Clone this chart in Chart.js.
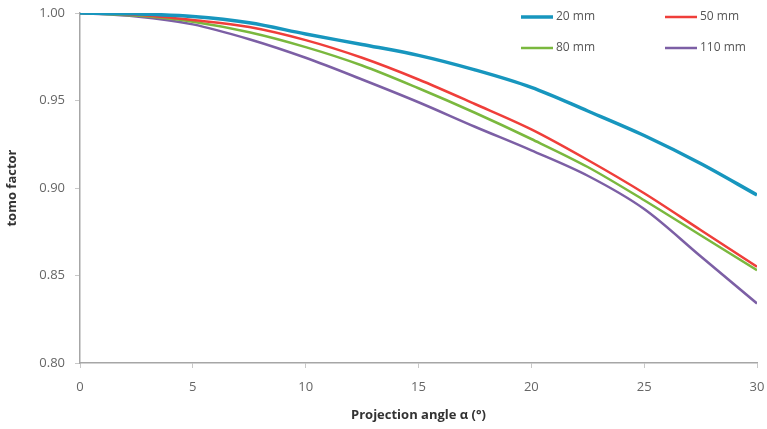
<!DOCTYPE html>
<html>
<head>
<meta charset="utf-8">
<script src="https://cdn.jsdelivr.net/npm/chart.js@4"></script>
<style>
  html, body { margin: 0; padding: 0; background: #fff; }
  #wrap { width: 767px; height: 429px; }
</style>
</head>
<body>
<div id="wrap"><canvas id="tomoChart"></canvas></div>
<script>
const angles = [0, 2.5, 5, 7.5, 10, 12.5, 15, 17.5, 20, 22.5, 25, 27.5, 30];
const labels = ["20 mm", "50 mm", "80 mm", "110 mm"];
const mm20  = [1.000, 0.9995, 0.998, 0.9944, 0.988, 0.982, 0.9758, 0.9675, 0.9575, 0.944, 0.930, 0.914, 0.896];
const mm50  = [1.000, 0.999, 0.996, 0.992, 0.9845, 0.9744, 0.962, 0.948, 0.9335, 0.916, 0.897, 0.876, 0.855];
const mm80  = [1.000, 0.9985, 0.995, 0.989, 0.9805, 0.970, 0.957, 0.943, 0.928, 0.912, 0.893, 0.873, 0.853];
const mm110 = [1.000, 0.998, 0.9935, 0.985, 0.9744, 0.962, 0.949, 0.935, 0.9215, 0.907, 0.888, 0.861, 0.834];
const xTicks = [0, 5, 10, 15, 20, 25, 30];
const yTicks = [0.80, 0.85, 0.90, 0.95, 1.00];

const colors = ["#1796be", "#ef3e3a", "#7ab83e", "#7c5fa5"];
const widths = [3.5, 2.5, 2.5, 2.5];
const series = [mm20, mm50, mm80, mm110];

const pts = arr => arr.map((v, i) => ({ x: angles[i], y: v }));

// legend drawn inside the plot, 2 x 2
const gridLegend = {
  id: "gridLegend",
  afterDraw(chart) {
    const ctx = chart.ctx;
    const a = chart.chartArea;
    ctx.save();
    ctx.font = "12px 'Open Sans'";
    ctx.fillStyle = "#555";
    ctx.textBaseline = "middle";
    chart.data.datasets.forEach((ds, i) => {
      const col = i % 2, row = Math.floor(i / 2);
      const x = a.right - 236 + col * 144;
      const y = a.top + 4 + row * 31;
      ctx.strokeStyle = ds.borderColor;
      ctx.lineWidth = ds.borderWidth;
      ctx.beginPath();
      ctx.moveTo(x, y);
      ctx.lineTo(x + 32, y);
      ctx.stroke();
      ctx.fillText(ds.label, x + 35, y);
    });
    ctx.restore();
  }
};

new Chart(document.getElementById("tomoChart"), {
  type: "line",
  data: {
    datasets: series.map((s, i) => ({
      label: labels[i],
      data: pts(s),
      borderColor: colors[i],
      borderWidth: widths[i],
      pointRadius: 0,
      cubicInterpolationMode: "monotone",
      fill: false
    }))
  },
  options: {
    responsive: true,
    maintainAspectRatio: false,
    animation: false,
    layout: { padding: 0 },
    plugins: { legend: { display: false }, tooltip: { enabled: false } },
    scales: {
      x: {
        type: "linear",
        min: 0, max: 30,
        afterBuildTicks: s => { s.ticks = xTicks.map(v => ({ value: v })); },
        afterFit: s => { s.height = 66; s.paddingLeft = 0; s.paddingRight = 10; },
        grid: { drawOnChartArea: false, tickLength: 5, color: "#c8c8c8" },
        border: { color: "#a6a6a6", width: 1.5 },
        ticks: { color: "#666", font: { family: "Open Sans", size: 13 }, padding: 11, maxRotation: 0 },
        title: {
          display: true,
          text: "Projection angle α (°)",
          color: "#333",
          font: { family: "Open Sans", size: 13, weight: "bold" },
          padding: { top: 0, bottom: 6 }
        }
      },
      y: {
        min: 0.80, max: 1.00,
        afterBuildTicks: s => { s.ticks = yTicks.map(v => ({ value: v })); },
        afterFit: s => { s.width = 80; s.paddingTop = 13; s.paddingBottom = 0; },
        grid: { drawOnChartArea: false, tickLength: 5, color: "#c8c8c8" },
        border: { color: "#a6a6a6", width: 1.5 },
        ticks: {
          color: "#666",
          font: { family: "Open Sans", size: 13 },
          padding: 10,
          callback: v => v.toFixed(2)
        },
        title: {
          display: true,
          text: "tomo factor",
          color: "#333",
          font: { family: "Open Sans", size: 13, weight: "bold" },
          padding: { top: 4, bottom: 4 }
        }
      }
    }
  },
  plugins: [gridLegend]
});
</script>
</body>
</html>
